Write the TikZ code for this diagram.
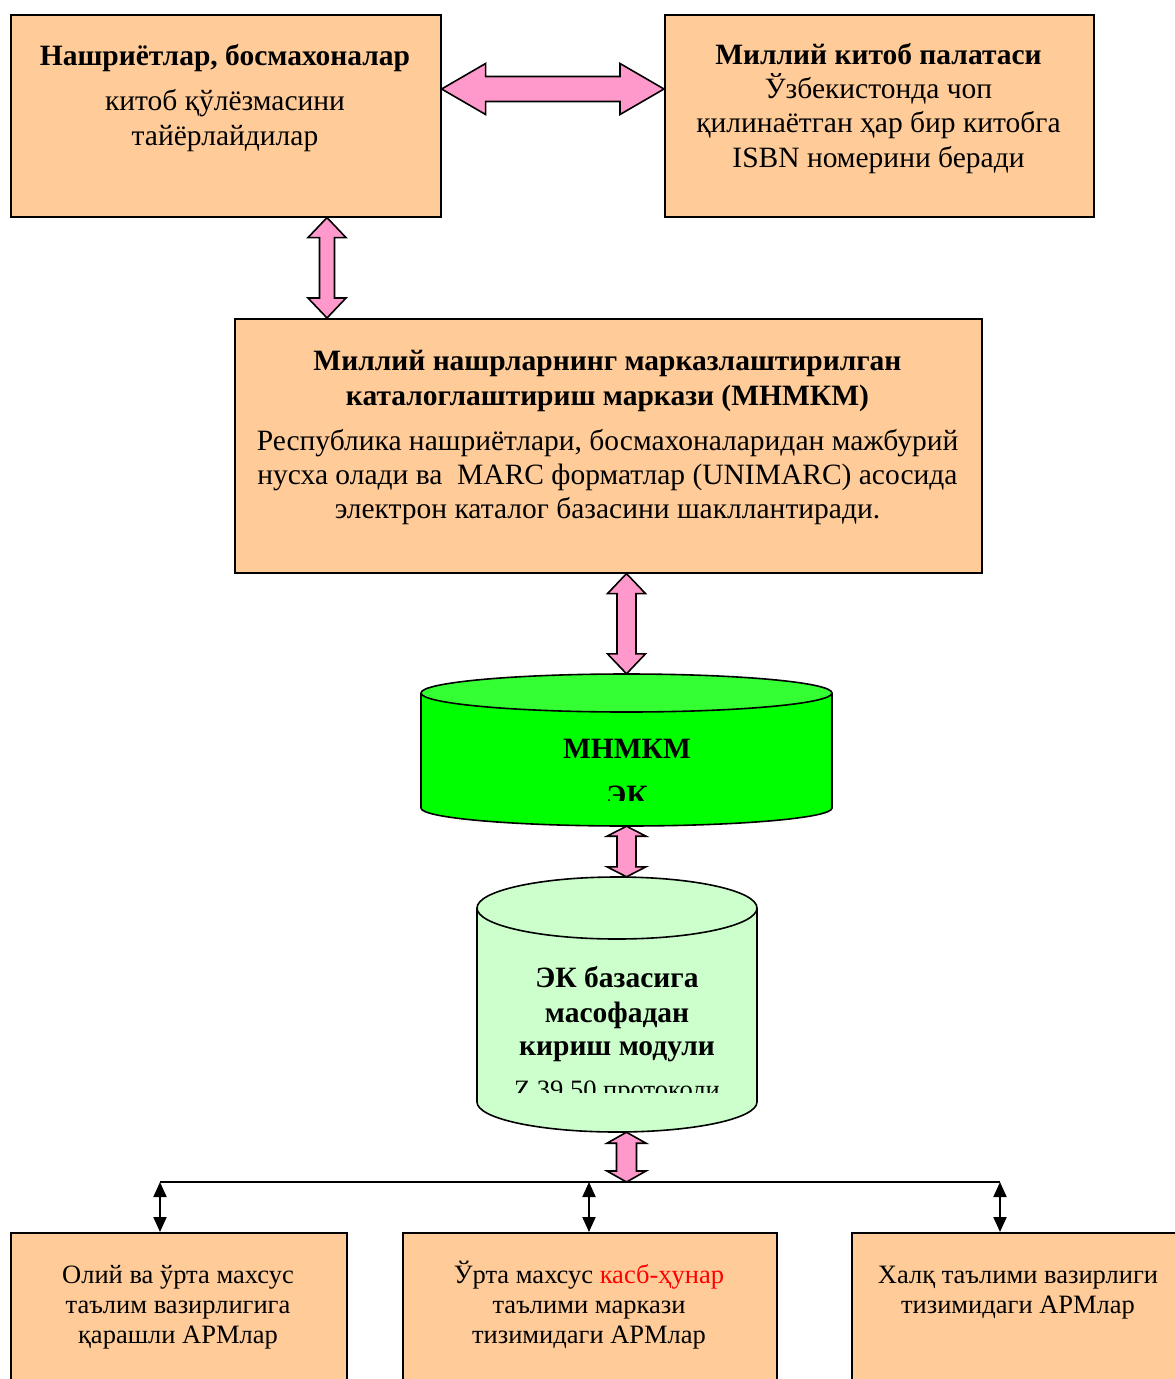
\documentclass[tikz,border=0pt]{standalone}
\usepackage{fontspec}
\setmainfont{Liberation Serif}
\usetikzlibrary{arrows.meta,calc}
\definecolor{peach}{HTML}{FFCC99}
\definecolor{pinkar}{HTML}{FF99CC}
\definecolor{gbody}{HTML}{00FF00}
\definecolor{gtop}{HTML}{33FF33}
\definecolor{lgreen}{HTML}{CCFFCC}
\definecolor{redtxt}{HTML}{FF0000}
\tikzset{
  box/.style={draw=black, line width=1.6pt, fill=peach, inner sep=0pt, anchor=north west},
  fat/.style={draw=black, line width=1.6pt, fill=pinkar, line join=miter},
  txt/.style={inner sep=0pt, anchor=base, font=\fontsize{29.5}{35}\selectfont},
  txtb/.style={inner sep=0pt, anchor=base, font=\fontsize{29.5}{35}\selectfont\bfseries},
  stxt/.style={inner sep=0pt, anchor=base, font=\fontsize{26.5}{30}\selectfont},
  cylline/.style={draw=black, line width=1.6pt},
  busline/.style={line width=2pt},
  busarrow/.style={line width=2pt, {Triangle[length=15pt,width=13pt]}-{Triangle[length=15pt,width=13pt]}},
}
\newcommand\fatV[5]{\draw[fat] let \p1=(#1), \p2=(#2) in
  (\x1,\y1) -- ({\x1+#4pt},{\y1-#5pt}) -- ({\x1+#3pt},{\y1-#5pt}) -- ({\x1+#3pt},{\y2+#5pt})
  -- ({\x1+#4pt},{\y2+#5pt}) -- (\x1,\y2) -- ({\x1-#4pt},{\y2+#5pt}) -- ({\x1-#3pt},{\y2+#5pt})
  -- ({\x1-#3pt},{\y1-#5pt}) -- ({\x1-#4pt},{\y1-#5pt}) -- cycle;}
\newcommand\fatH[5]{\draw[fat] let \p1=(#1), \p2=(#2) in
  (\x1,\y1) -- ({\x1+#5pt},{\y1+#4pt}) -- ({\x1+#5pt},{\y1+#3pt}) -- ({\x2-#5pt},{\y1+#3pt})
  -- ({\x2-#5pt},{\y1+#4pt}) -- (\x2,\y1) -- ({\x2-#5pt},{\y1-#4pt}) -- ({\x2-#5pt},{\y1-#3pt})
  -- ({\x1+#5pt},{\y1-#3pt}) -- ({\x1+#5pt},{\y1-#4pt}) -- cycle;}
% #1 cx, #2 rx, #3 ytop, #4 ry top, #5 ybot, #6 ry bot, #7 body fill, #8 top fill
\newcommand\drawcyl[8]{%
  \path[fill=#7] ({#1-#2},#3) -- ({#1-#2},#5)
    .. controls ({#1-#2},{#5+0.5523*#6}) and ({#1-0.5523*#2},{#5+#6}) .. (#1,{#5+#6})
    .. controls ({#1+0.5523*#2},{#5+#6}) and ({#1+#2},{#5+0.5523*#6}) .. ({#1+#2},#5)
    -- ({#1+#2},#3) -- cycle;
  \draw[cylline] ({#1-#2},#3) -- ({#1-#2},#5)
    .. controls ({#1-#2},{#5+0.5523*#6}) and ({#1-0.5523*#2},{#5+#6}) .. (#1,{#5+#6})
    .. controls ({#1+0.5523*#2},{#5+#6}) and ({#1+#2},{#5+0.5523*#6}) .. ({#1+#2},#5)
    -- ({#1+#2},#3);
  \draw[cylline, fill=#8] (#1,#3) ellipse [x radius=#2, y radius=#4];}
\begin{document}
\begin{tikzpicture}[x=1pt,y=-1pt]
\useasboundingbox (0,0) rectangle (1175,1379);
\clip (0,0) rectangle (1175,1379);
\fill[white] (0,0) rectangle (1175,1379);

% boxes
\node[box, minimum width=430pt, minimum height=202pt] (A) at (10,14) {};
\node[box, minimum width=429pt, minimum height=202pt] (B) at (664,14) {};
\node[box, minimum width=747pt, minimum height=254pt] (C) at (234,318) {};
\node[box, minimum width=336pt, minimum height=200pt] (D) at (10,1232) {};
\node[box, minimum width=374pt, minimum height=200pt] (E) at (402,1232) {};
\node[box, minimum width=336pt, minimum height=200pt] (F) at (851,1232) {};

% cylinders (frames for naming)
\node[inner sep=0pt, minimum width=411pt, minimum height=152pt] (cyl1) at (626.5,750) {};
\node[inner sep=0pt, minimum width=280pt, minimum height=255pt] (cyl2) at (617,1004.5) {};
\drawcyl{626.5}{205.5}{693}{19}{808}{18}{gbody}{gtop}
\drawcyl{617}{140}{908}{31}{1102}{30}{lgreen}{lgreen}

% texts
\node[txtb] (a1) at (225,65) {Нашриётлар, босмахоналар};
\node[txt] (a2) at (225,110) {китоб қўлёзмасини};
\node[txt] (a3) at (225,145) {тайёрлайдилар};

\node[txtb] (b1) at (878.5,64) {Миллий китоб палатаси};
\node[txt] (b2) at (878.5,98) {Ўзбекистонда чоп};
\node[txt] (b3) at (878.5,132) {қилинаётган ҳар бир китобга};
\node[txt] (b4) at (878.5,167) {ISBN номерини беради};

\node[txtb] (c1) at (607.5,370) {Миллий нашрларнинг марказлаштирилган};
\node[txtb] (c2) at (607.5,405) {каталоглаштириш маркази (МНМКМ)};
\node[txt] (c3) at (607.5,450) {Республика нашриётлари, босмахоналаридан мажбурий};
\node[txt] (c4) at (607.5,484) {нусха олади ва\ \ MARC форматлар (UNIMARC) асосида};
\node[txt] (c5) at (607.5,518) {электрон каталог базасини шакллантиради.};

\node[txtb] (g1) at (627,758) {МНМКМ};
\begin{scope}
  \clip (421,770) rectangle (832,800);
  \node[txtb] (g2) at (627,805) {ЭК};
\end{scope}

\node[txtb] (h1) at (617,987) {ЭК базасига};
\node[txtb] (h2) at (617,1022) {масофадан};
\node[txtb] (h3) at (617,1055) {кириш модули};
\begin{scope}
  \clip (477,1065) rectangle (757,1092);
  \node[stxt] (h4) at (617,1098.5) {Z 39.50 протоколи};
\end{scope}

\node[stxt] (d1) at (178,1283) {Олий ва ўрта махсус};
\node[stxt] (d2) at (178,1313) {таълим вазирлигига};
\node[stxt] (d3) at (178,1343) {қарашли АРМлар};

\node[stxt] (e1) at (589,1283) {Ўрта махсус \textcolor{redtxt}{касб-ҳунар}};
\node[stxt] (e2) at (589,1313) {таълими маркази};
\node[stxt] (e3) at (589,1343) {тизимидаги АРМлар};

\node[stxt] (f1) at (1018,1283) {Халқ таълими вазирлиги};
\node[stxt] (f2) at (1018,1313) {тизимидаги АРМлар};

% fat arrows
\coordinate (hA) at ($(A.north east)+(0,75)$);
\coordinate (hB) at (hA -| B.west);
\fatH{hA}{hB}{12.5}{25.5}{44}
\coordinate (vA) at ($(A.south west)+(317,0)$);
\coordinate (vC) at (vA |- C.north);
\fatV{vA}{vC}{7.5}{19}{20}
\coordinate (vC2) at (C.south -| cyl1.north);
\fatV{vC2}{cyl1.north}{9.5}{19}{20}
\coordinate (vG) at (cyl1.south |- cyl2.north);
\fatV{cyl1.south}{vG}{9.5}{19.5}{10}

% bus
\coordinate (j1) at (160,1182);
\coordinate (j2) at (589,1182);
\coordinate (j3) at (1000,1182);
\coordinate (v2s) at (cyl2.south -| cyl1.south);
\coordinate (v2b) at (j2 -| cyl1.south);
\draw[busline] (j1) -- (j3);
\fatV{v2s}{v2b}{10}{19.5}{11}
\draw[busarrow] (j1) -- (j1 |- D.north);
\draw[busarrow] (j2) -- (j2 |- E.north);
\draw[busarrow] (j3) -- (j3 |- F.north);
\end{tikzpicture}
\end{document}
